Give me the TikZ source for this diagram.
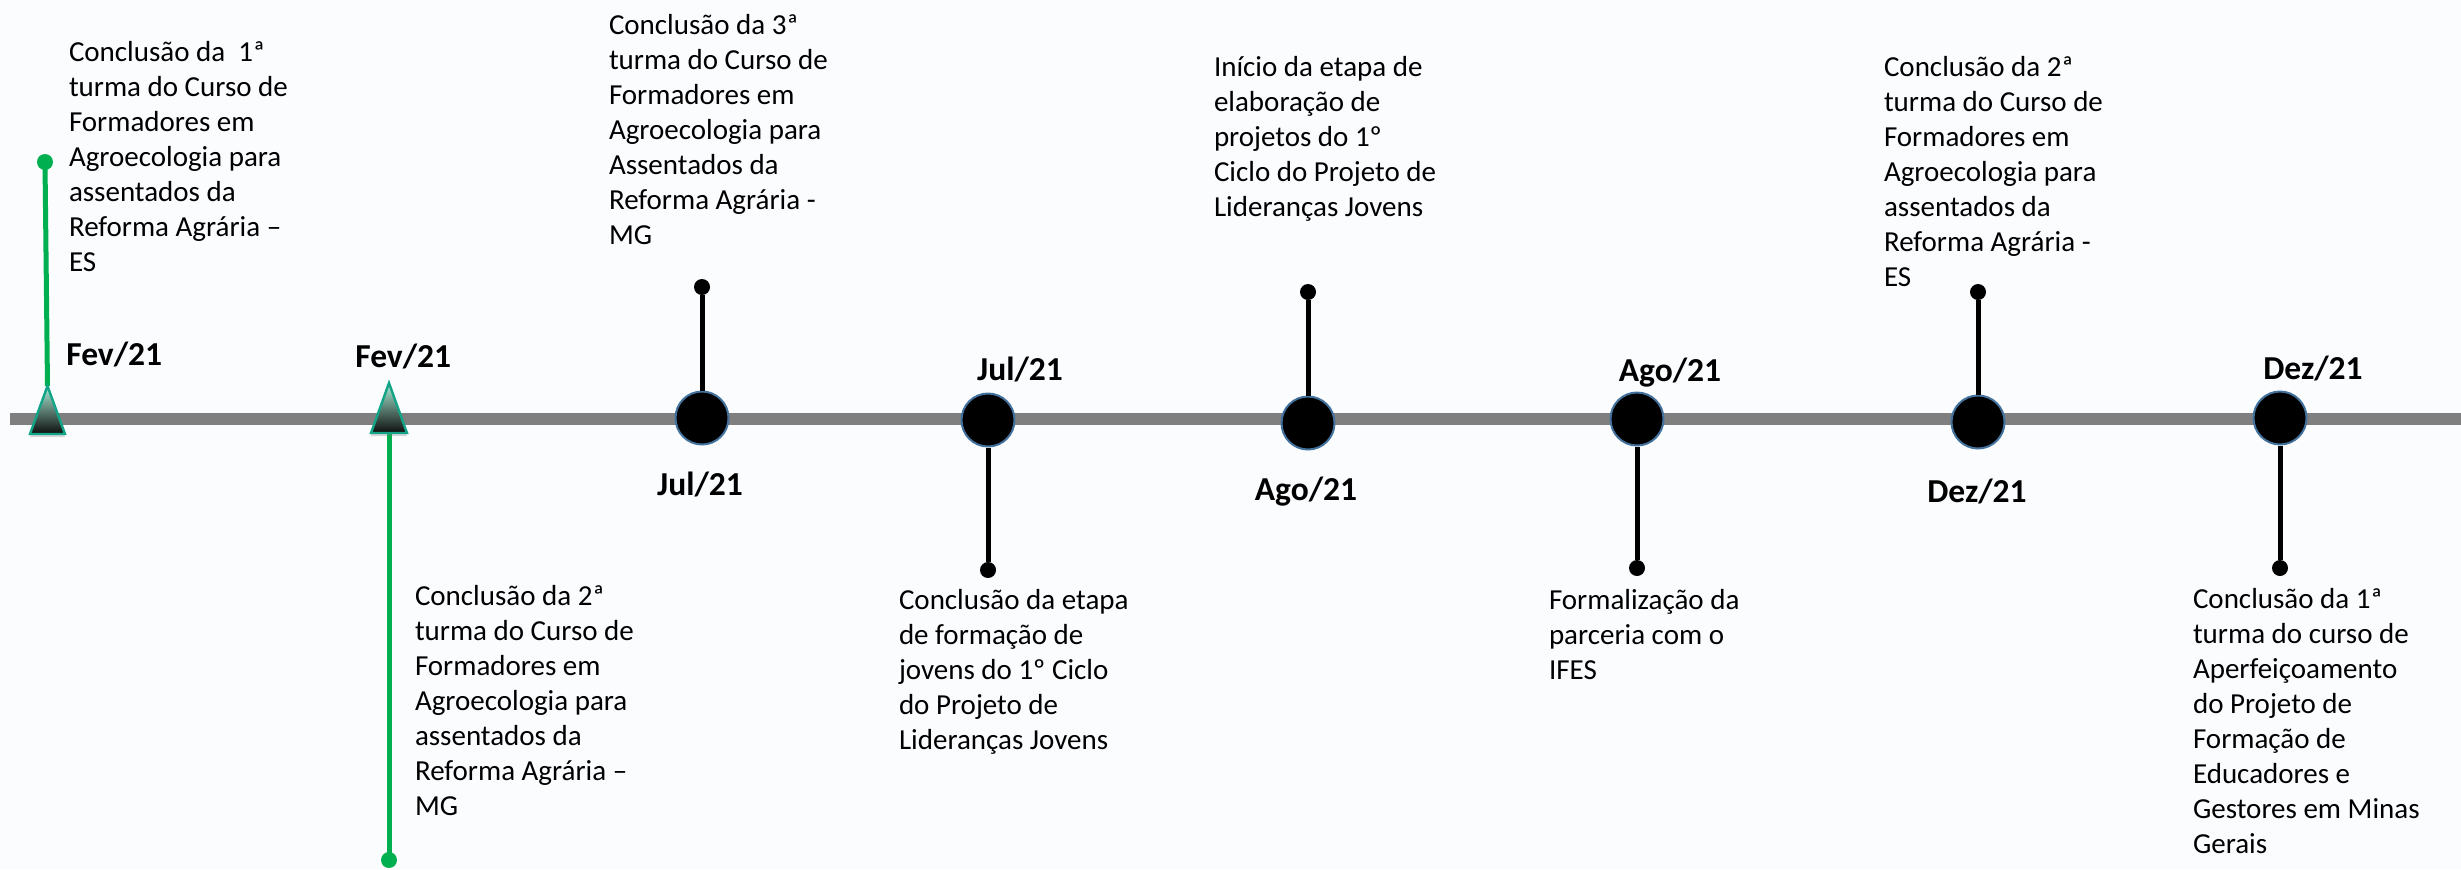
\documentclass[tikz,border=0pt]{standalone}
\usepackage{fontspec}
\setmainfont{Carlito}
\usetikzlibrary{shadows}
\definecolor{bgc}{RGB}{251,252,254}
\definecolor{barc}{RGB}{127,127,127}
\definecolor{grn}{RGB}{0,176,80}
\definecolor{cbd}{RGB}{65,113,156}
\definecolor{tritop}{RGB}{170,238,216}
\definecolor{trimid}{RGB}{84,156,134}
\definecolor{tribot}{RGB}{13,13,13}
\definecolor{tribd}{RGB}{19,164,135}
\newcommand{\evtxt}[1]{\parbox[t]{170pt}{\fontsize{14.5pt}{17.5pt}\selectfont\raggedright #1}}
\tikzset{
 evt/.style={inner sep=0pt, outer sep=0pt, anchor=base west},
 datelbl/.style={inner sep=0pt, anchor=base, font=\fontsize{16.75pt}{20pt}\selectfont\bfseries},
 milestone/.style={circle, fill=black, draw=cbd, line width=1pt, minimum size=26.5pt, inner sep=0pt},
 stemdot/.style={circle, fill=black, minimum size=8pt, inner sep=0pt},
 gdot/.style={circle, fill=grn, minimum size=8pt, inner sep=0pt},
 stem/.style={line width=2.5pt, black},
 gstem/.style={line width=2.5pt, grn},
 tlbar/.style={line width=6pt, barc},
 marker/.style={top color=tritop, middle color=trimid, bottom color=tribot, draw=tribd, line width=1.2pt, line join=miter,
   drop shadow={shadow xshift=0pt, shadow yshift=-1.5pt, opacity=0.3}},
}
\begin{document}
\begin{tikzpicture}[x=0.5pt,y=-0.5pt]
\fill[bgc] (0,0) rectangle (2461,869);
\useasboundingbox (0,0) rectangle (2461,869);
% timeline bar
\coordinate (barL) at (10,419);
\coordinate (barR) at (2461,419);
\draw[tlbar] (barL) -- (barR);
% green markers
\node[gdot] (g1) at (45,162) {};
\coordinate (t1) at (47.5,386);
\draw[gstem] (g1.center) -- (t1);
\node[gdot] (g2) at (389,860) {};
\coordinate (t2b) at (389,433);
\draw[gstem] (t2b) -- (g2.center);
\path[marker] (t1) -- (30,434) -- (65,434) -- cycle;
\coordinate (t2) at (389,383);
\path[marker] (t2) -- (371,433) -- (407,433) -- cycle;
% milestones
\node[milestone] (c1) at (702,418) {};
\node[milestone] (c2) at (988,420) {};
\node[milestone] (c3) at (1308,423) {};
\node[milestone] (c4) at (1637,419) {};
\node[milestone] (c5) at (1978,422) {};
\node[milestone] (c6) at (2280,418) {};
\node[stemdot] (d1) at (702,287) {};
\node[stemdot] (d2) at (988,570) {};
\node[stemdot] (d3) at (1308,292) {};
\node[stemdot] (d4) at (1637,568) {};
\node[stemdot] (d5) at (1978,292) {};
\node[stemdot] (d6) at (2280,568) {};
\draw[stem] (c1) -- (d1);
\draw[stem] (c2) -- (d2);
\draw[stem] (c3) -- (d3);
\draw[stem] (c4) -- (d4);
\draw[stem] (c5) -- (d5);
\draw[stem] (c6) -- (d6);
% date labels
\node[datelbl, anchor=base west] (l1) at (66,365) {Fev/21};
\node[datelbl, anchor=base west] (l2) at (355,367) {Fev/21};
\node[datelbl] (l3) at (700,495) {Jul/21};
\node[datelbl] (l4) at (1020,380) {Jul/21};
\node[datelbl] (l5) at (1306,500) {Ago/21};
\node[datelbl] (l6) at (1670,381) {Ago/21};
\node[datelbl] (l7) at (1977,502) {Dez/21};
\node[datelbl] (l8) at (2313,379) {Dez/21};
% event texts
\node[evt] (e1) at (69,61) {\evtxt{Conclusão da\ \ 1ª\\turma do Curso de\\Formadores em\\Agroecologia para\\assentados da\\Reforma Agrária –\\ES}};
\node[evt] (e2) at (415,605) {\evtxt{Conclusão da 2ª\\turma do Curso de\\Formadores em\\Agroecologia para\\assentados da\\Reforma Agrária –\\MG}};
\node[evt] (e3) at (609,34) {\evtxt{Conclusão da 3ª\\turma do Curso de\\Formadores em\\Agroecologia para\\Assentados da\\Reforma Agrária -\\MG}};
\node[evt] (e4) at (1214,76) {\evtxt{Início da etapa de\\elaboração de\\projetos do 1º\\Ciclo do Projeto de\\Lideranças Jovens}};
\node[evt] (e5) at (899,609) {\evtxt{Conclusão da etapa\\de formação de\\jovens do 1º Ciclo\\do Projeto de\\Lideranças Jovens}};
\node[evt] (e6) at (1549,609) {\evtxt{Formalização da\\parceria com o\\IFES}};
\node[evt] (e7) at (1884,76) {\evtxt{Conclusão da 2ª\\turma do Curso de\\Formadores em\\Agroecologia para\\assentados da\\Reforma Agrária -\\ES}};
\node[evt] (e8) at (2193,608) {\evtxt{Conclusão da 1ª\\turma do curso de\\Aperfeiçoamento\\do Projeto de\\Formação de\\Educadores e\\Gestores em Minas\\Gerais}};
\end{tikzpicture}
\end{document}
